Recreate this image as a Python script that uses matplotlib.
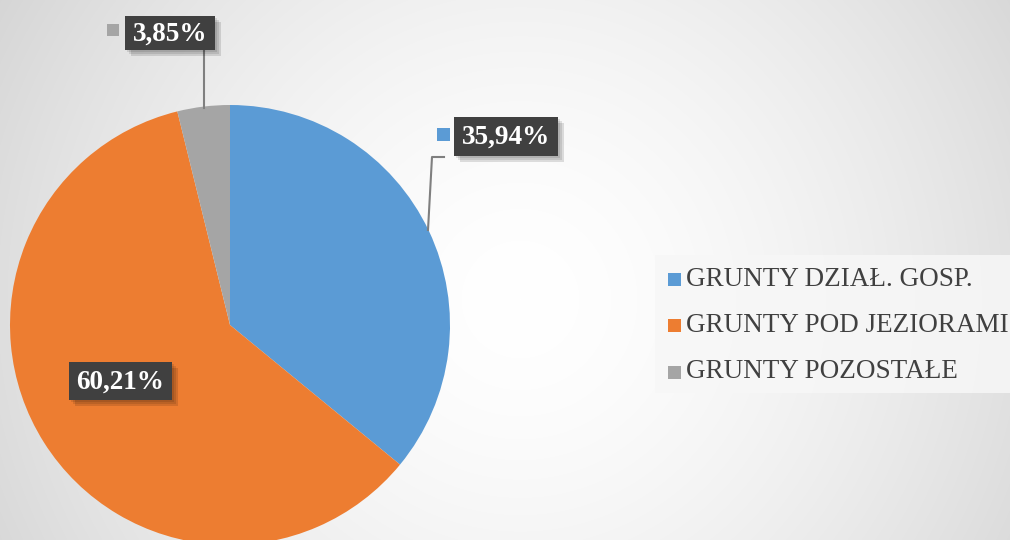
import numpy as np
import matplotlib.pyplot as plt
from matplotlib.patches import Rectangle

labels = ['GRUNTY DZIAŁ. GOSP.', 'GRUNTY POD JEZIORAMI', 'GRUNTY POZOSTAŁE']
values = [35.94, 60.21, 3.85]
value_texts = ['35,94%', '60,21%', '3,85%']
colors = ['#5B9BD5', '#ED7D31', '#A5A5A5']

W, H = 1010, 540
fig = plt.figure(figsize=(W / 100, H / 100), dpi=100)
ax = fig.add_axes([0, 0, 1, 1])
ax.set_xlim(0, W)
ax.set_ylim(0, H)
ax.axis('off')

# radial gradient background
yy, xx = np.mgrid[0:H, 0:W]
d = np.sqrt((xx - 520) ** 2 + ((H - yy) - 300) ** 2) / 620
d = np.clip(d, 0, 1)
shade = 1.0 - 0.17 * d ** 1.6
bg = np.dstack([shade, shade, shade])
ax.imshow(bg, extent=(0, W, 0, H), origin='lower', zorder=0, aspect='auto')

cx, cy, r = 230, H - 325, 220
ax.pie(values, colors=colors, startangle=90, counterclock=False,
       center=(cx, cy), radius=r, frame=True,
       wedgeprops=dict(linewidth=0, zorder=2))
ax.set_xlim(0, W)
ax.set_ylim(0, H)
ax.axis('off')


def label_box(x0, y0, w, h, text):
    # x0, y0 top-left in pixel coords from the top
    yb = H - y0 - h
    for k, a in enumerate([0.10, 0.10, 0.12]):
        off = 2 + 2 * k
        ax.add_patch(Rectangle((x0 + off, yb - off), w, h, facecolor='black',
                               alpha=a, linewidth=0, zorder=4))
    ax.add_patch(Rectangle((x0, yb), w, h, facecolor='#404040',
                           linewidth=0, zorder=5))
    ax.text(x0 + w / 2, yb + h / 2 - 1, text, color='white', fontsize=19.5,
            fontweight='bold', family='Liberation Serif',
            ha='center', va='center', zorder=6)


# leader lines
ax.plot([204, 204], [H - 50, H - 108], color='#7f7f7f', lw=1.5, zorder=3)
ax.plot([444, 432, 428], [H - 157, H - 157, H - 230], color='#7f7f7f', lw=1.5, zorder=3)

label_box(454, 117, 104, 39, value_texts[0])
label_box(69, 362, 103, 38, value_texts[1])
label_box(125, 16, 90, 34, value_texts[2])

# small series markers next to outside labels
ax.add_patch(Rectangle((437, H - 141), 13, 13, facecolor=colors[0], lw=0, zorder=5))
ax.add_patch(Rectangle((107, H - 36), 12, 12, facecolor=colors[2], lw=0, zorder=5))

# legend
ax.add_patch(Rectangle((655, H - 393), 360, 138, facecolor='#f7f7f7',
                       alpha=0.85, linewidth=0, zorder=3))
for i, (lab, col) in enumerate(zip(labels, colors)):
    yc = H - (279 + 46.5 * i)
    ax.add_patch(Rectangle((668, yc - 6.5), 13, 13, facecolor=col, lw=0, zorder=5))
    ax.text(686, yc, lab, color='#404040', fontsize=19.5, family='Liberation Serif',
            ha='left', va='center', zorder=6)

fig.savefig('out.png', dpi=100)
